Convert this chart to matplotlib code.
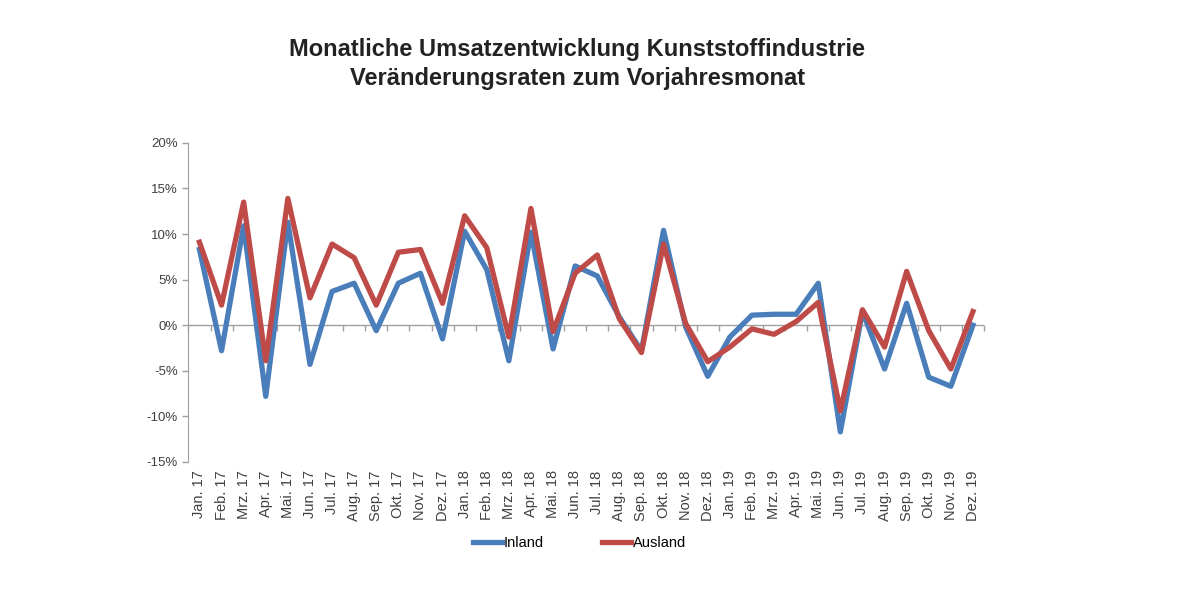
import matplotlib
matplotlib.use("Agg")
import matplotlib.pyplot as plt
import numpy as np

plt.rcParams['font.family'] = ['Liberation Sans', 'DejaVu Sans']

months = ["Jan.", "Feb.", "Mrz.", "Apr.", "Mai.", "Jun.", "Jul.", "Aug.", "Sep.", "Okt.", "Nov.", "Dez."]
years = ["17", "18", "19"]
categories = [f"{m} {y}" for y in years for m in months]

inland = [8.3, -2.8, 10.9, -7.8, 11.3, -4.3, 3.7, 4.6, -0.6, 4.6, 5.7, -1.5,
          10.3, 6.1, -3.9, 10.2, -2.6, 6.5, 5.4, 0.9, -2.8, 10.4, -0.2, -5.6,
          -1.3, 1.1, 1.2, 1.2, 4.6, -11.7, 1.5, -4.8, 2.4, -5.7, -6.7, 0.0]
ausland = [9.1, 2.2, 13.5, -3.9, 13.9, 3.0, 8.9, 7.4, 2.2, 8.0, 8.3, 2.4,
           12.0, 8.5, -1.3, 12.8, -0.7, 5.7, 7.7, 0.7, -3.0, 8.9, 0.2, -4.0,
           -2.4, -0.4, -1.0, 0.4, 2.5, -9.4, 1.7, -2.4, 5.9, -0.6, -4.8, 1.5]
yticks = [-15, -10, -5, 0, 5, 10, 15, 20]

fig = plt.figure(figsize=(12, 6), dpi=100)
ax = fig.add_axes([0.157, 0.23, 0.663, 0.532])

x = np.arange(len(categories))
ax.plot(x, inland, color="#4A7EBB", lw=3.8, label="Inland", solid_joinstyle="round")
ax.plot(x, ausland, color="#BE4B48", lw=3.8, label="Ausland", solid_joinstyle="round")

ax.set_xlim(-0.5, len(categories) - 0.5)
ax.set_ylim(-15, 20)
ax.set_yticks(yticks)
ax.set_yticklabels([f"{v}%" for v in yticks], fontsize=9.5, color="#404040")
ax.set_xticks(x)
ax.set_xticklabels(categories, rotation=90, fontsize=10.5, color="#404040")
ax.tick_params(axis='x', length=0, pad=6)
ax.tick_params(axis='y', length=4, color="#A0A0A0", width=1)

for s in ["top", "right", "bottom"]:
    ax.spines[s].set_visible(False)
ax.spines["left"].set_color("#A0A0A0")

# category axis crossing at 0
ax.axhline(0, color="#A0A0A0", lw=1, zorder=1)
sec = ax.secondary_xaxis(0, transform=ax.transData)
sec.set_xticks(np.arange(-0.5, len(categories), 1))
sec.set_xticklabels([])
sec.tick_params(length=4, color="#A0A0A0", width=1)
sec.spines["bottom"].set_visible(False)

fig.text(0.481, 0.918, "Monatliche Umsatzentwicklung Kunststoffindustrie",
         ha="center", va="center", fontsize=17, fontweight="bold", color="#222222")
fig.text(0.481, 0.870, "Veränderungsraten zum Vorjahresmonat",
         ha="center", va="center", fontsize=17, fontweight="bold", color="#222222")

fig.legend(loc="center", bbox_to_anchor=(0.483, 0.095), ncol=2, frameon=False,
           fontsize=10.5, handlelength=2.0, handletextpad=0.1, columnspacing=4)

fig.savefig("out.png", dpi=100, facecolor="white")
